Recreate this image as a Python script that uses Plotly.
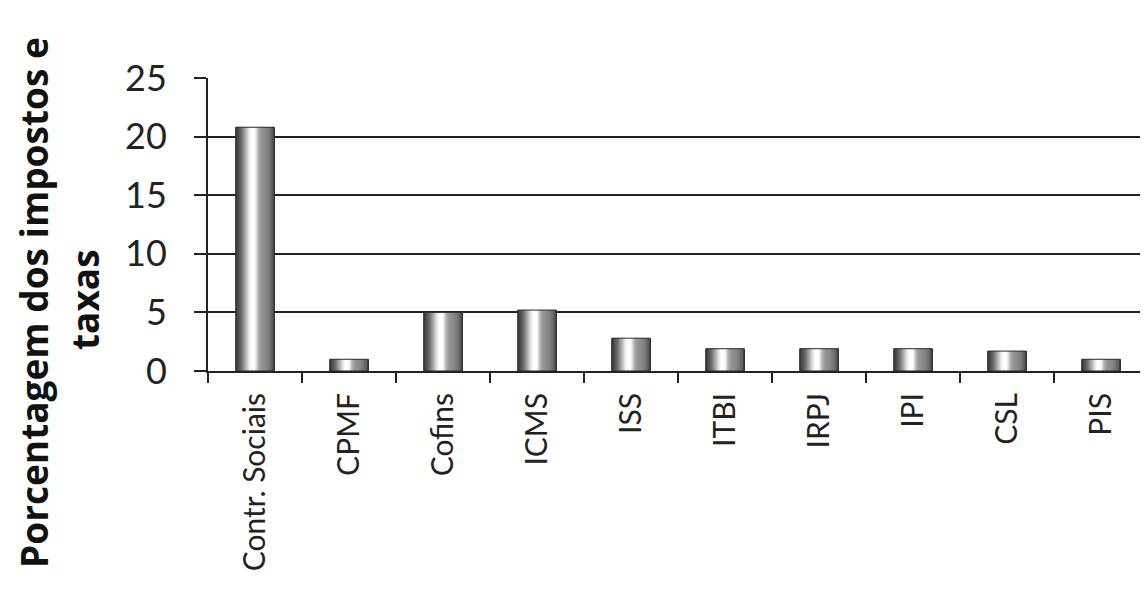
import plotly.graph_objects as go

# data
categories = ["Contr. Sociais", "CPMF", "Cofins", "ICMS", "ISS",
              "ITBI", "IRPJ", "IPI", "CSL", "PIS"]
values = [20.8, 1.0, 5.0, 5.2, 2.8, 1.9, 1.9, 1.9, 1.7, 1.0]
y_ticks = [0, 5, 10, 15, 20, 25]

# cylinder-like shading across each bar (position, grey level)
shade = [(0.0, 55), (0.05, 70), (0.15, 110), (0.25, 170), (0.33, 225),
         (0.40, 252), (0.48, 255), (0.53, 230), (0.58, 180), (0.65, 150),
         (0.75, 140), (0.85, 125), (0.93, 100), (1.0, 70)]


def grey_at(t):
    for (t0, g0), (t1, g1) in zip(shade[:-1], shade[1:]):
        if t0 <= t <= t1:
            g = g0 + (g1 - g0) * (t - t0) / (t1 - t0)
            g = int(round(g))
            return f"rgb({g},{g},{g})"
    return "rgb(70,70,70)"


bar_w = 0.41
n_strips = 32
step = bar_w / n_strips

fig = go.Figure()
for i in range(n_strips):
    w = min(2 * step, bar_w - i * step)
    fig.add_trace(go.Bar(
        x=categories, y=values,
        width=w, offset=-bar_w / 2 + i * step,
        marker=dict(color=grey_at((i + 0.5) / n_strips), line_width=0),
        hoverinfo="skip"))

# thin dark outline around each bar
fig.add_trace(go.Bar(
    x=categories, y=values,
    width=bar_w, offset=-bar_w / 2,
    marker=dict(color="rgba(0,0,0,0)", line=dict(color="#2a2a2a", width=1)),
    hovertemplate="%{x}: %{y}<extra></extra>"))

# page body adds an 8px margin, so figure coords = window coords - 8
off = 8
left, right, top, bottom = 208 - off, 1148 - off, 78 - off, 371 - off
fig_w, fig_h = 1148 - off, 599 - off
px_w = right - left
px_h = bottom - top

title_font = dict(family="Open Sans", size=37, color="#111")
fig.add_annotation(text="<b>Porcentagem dos impostos e</b>", textangle=-90,
                   xref="paper", yref="paper",
                   x=(33 - off - left) / px_w, y=(bottom - (303 - off)) / px_h,
                   xanchor="center", yanchor="middle",
                   showarrow=False, font=title_font)
fig.add_annotation(text="<b>taxas</b>", textangle=-90,
                   xref="paper", yref="paper",
                   x=(84 - off - left) / px_w, y=(bottom - (300 - off)) / px_h,
                   xanchor="center", yanchor="middle",
                   showarrow=False, font=title_font)

fig.update_layout(
    width=fig_w, height=fig_h,
    barmode="overlay",
    showlegend=False,
    plot_bgcolor="white", paper_bgcolor="white",
    margin=dict(l=left, r=fig_w - right, t=top, b=fig_h - bottom),
    xaxis=dict(
        type="category", range=[-0.5, 9.5],
        showline=True, linecolor="#222", linewidth=2,
        ticks="outside", tickson="boundaries", ticklen=10,
        tickwidth=2, tickcolor="#222",
        tickangle=-90, ticklabelstandoff=8,
        tickfont=dict(family="Lato", size=30, color="#222"),
        showgrid=False, zeroline=False),
    yaxis=dict(
        range=[0, 25], tickvals=y_ticks,
        showline=True, linecolor="#222", linewidth=2,
        ticks="outside", ticklen=12, tickwidth=2, tickcolor="#222",
        ticklabelstandoff=20,
        tickfont=dict(family="Lato", size=36, color="#222"),
        showgrid=True, gridcolor="#222", gridwidth=2,
        zeroline=False),
)

fig.write_html("out.html")
